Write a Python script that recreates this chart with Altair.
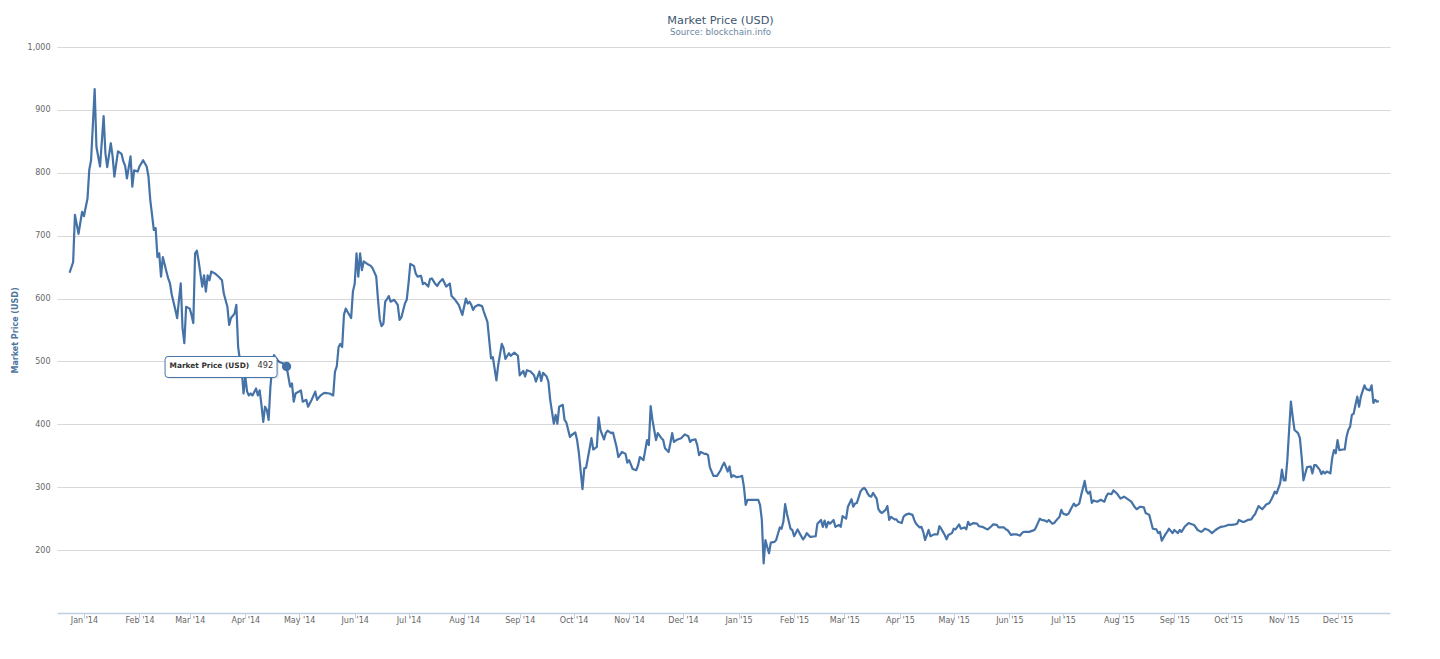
import altair as alt
import pandas as pd

# ---- data (daily-ish samples, USD) ----
days_2013 = ["12-24", "12-26", "12-27", "12-29", "12-31"]
price_2013 = [641, 658, 733, 703, 738]

days_2014 = [
    "01-01", "01-03", "01-04", "01-05", "01-07", "01-08", "01-10", "01-12", "01-13", "01-14", "01-16", "01-17", "01-18", "01-20", "01-22", "01-23", "01-24", "01-25", "01-27", "01-28", "01-29", "01-31",
    "02-01", "02-03", "02-05", "02-06", "02-07", "02-09", "02-10", "02-11", "02-12", "02-13", "02-14", "02-16", "02-17", "02-18", "02-19", "02-21", "02-22", "02-23", "02-24", "02-25", "02-26", "02-27",
    "03-01", "03-02", "03-03", "03-04", "03-05", "03-06", "03-08", "03-09", "03-10", "03-11", "03-12", "03-13", "03-15", "03-17", "03-19", "03-20", "03-22", "03-23", "03-24", "03-26", "03-27", "03-28", "03-29", "03-30", "03-31",
    "04-01", "04-02", "04-03", "04-04", "04-05", "04-07", "04-08", "04-09", "04-10", "04-11", "04-12", "04-13", "04-14", "04-15", "04-16", "04-17", "04-19", "04-20", "04-22", "04-24", "04-26", "04-27", "04-28", "04-29",
    "05-02", "05-03", "05-05", "05-06", "05-08", "05-10", "05-11", "05-13", "05-15", "05-18", "05-20", "05-21", "05-22", "05-23", "05-24", "05-25", "05-26", "05-27", "05-28", "05-30", "05-31",
    "06-01", "06-02", "06-03", "06-04", "06-05", "06-06", "06-08", "06-10", "06-11", "06-13", "06-14", "06-15", "06-16", "06-17", "06-18", "06-19", "06-20", "06-21", "06-23", "06-25", "06-26", "06-27", "06-29", "06-30",
    "07-01", "07-02", "07-04", "07-05", "07-06", "07-08", "07-09", "07-10", "07-12", "07-13", "07-14", "07-16", "07-17", "07-18", "07-20", "07-21", "07-22", "07-24", "07-25", "07-27", "07-29", "07-30", "07-31",
    "08-02", "08-03", "08-04", "08-05", "08-06", "08-07", "08-09", "08-11", "08-12", "08-14", "08-15", "08-16", "08-17", "08-19", "08-20", "08-22", "08-23", "08-24", "08-26", "08-27", "08-29", "08-31",
    "09-01", "09-03", "09-04", "09-05", "09-07", "09-09", "09-10", "09-12", "09-13", "09-14", "09-16", "09-17", "09-18", "09-20", "09-21", "09-22", "09-23", "09-25", "09-26", "09-27", "09-29", "09-30",
    "10-02", "10-03", "10-04", "10-06", "10-07", "10-08", "10-10", "10-11", "10-12", "10-14", "10-15", "10-16", "10-18", "10-19", "10-20", "10-22", "10-23", "10-25", "10-26", "10-28", "10-30", "10-31",
    "11-01", "11-03", "11-05", "11-06", "11-07", "11-09", "11-10", "11-11", "11-12", "11-13", "11-14", "11-15", "11-16", "11-17", "11-19", "11-20", "11-21", "11-23", "11-24", "11-25", "11-26", "11-28", "11-30",
    "12-02", "12-04", "12-05", "12-06", "12-08", "12-09", "12-10", "12-11", "12-13", "12-14", "12-15", "12-16", "12-18", "12-20", "12-22", "12-23", "12-24", "12-26", "12-27", "12-28", "12-29", "12-31",
]
price_2014 = [
    731, 759, 805, 820, 933, 841, 810, 890, 831, 809, 847, 826, 794, 834, 830, 818, 811, 791, 826, 778, 804, 802,
    810, 820, 810, 794, 757, 709, 712, 666, 672, 635, 666, 643, 632, 624, 606, 582, 569, 598, 624, 553, 529, 587,
    584, 574, 561, 672, 676, 659, 619, 637, 611, 637, 629, 643, 640, 635, 629, 608, 587, 558, 569, 576, 590, 523, 502, 486, 449,
    476, 452, 446, 449, 446, 457, 446, 454, 431, 404, 428, 423, 407, 460, 491, 510, 502, 499, 497, 492, 460, 465, 436, 449,
    454, 436, 439, 428, 439, 452, 439, 446, 450, 449, 446, 484, 492, 523, 528, 523, 574, 584, 579, 569, 611,
    624, 672, 635, 672, 645, 659, 655, 652, 648, 635, 598, 566, 556, 560, 595, 599, 604, 595, 598, 590, 566, 570, 592, 598,
    624, 655, 652, 640, 635, 636, 623, 625, 619, 631, 632, 623, 620, 625, 631, 625, 619, 624, 604, 598, 590, 582, 574,
    600, 592, 595, 590, 582, 587, 590, 588, 579, 563, 534, 505, 507, 470, 494, 528, 521, 504, 513, 509, 514, 509,
    478, 485, 476, 486, 484, 478, 468, 484, 469, 482, 476, 468, 439, 401, 415, 401, 428, 431, 407, 403, 380, 383,
    387, 375, 354, 297, 330, 331, 362, 378, 360, 364, 411, 391, 376, 386, 390, 386, 387, 364, 348, 356, 353, 339,
    343, 329, 327, 335, 348, 343, 359, 375, 367, 429, 407, 391, 375, 386, 378, 375, 362, 356, 370, 386, 372, 376, 378,
    384, 381, 372, 375, 376, 367, 351, 356, 353, 353, 351, 332, 318, 318, 327, 334, 339, 325, 333, 316, 319, 316,
]

days_2015 = [
    "01-02", "01-03", "01-04", "01-05", "01-06", "01-08", "01-10", "01-12", "01-13", "01-14", "01-15", "01-16", "01-17", "01-18", "01-19", "01-21", "01-22", "01-24", "01-25", "01-26", "01-27", "01-28", "01-30", "01-31",
    "02-01", "02-03", "02-04", "02-06", "02-07", "02-08", "02-10", "02-13", "02-14", "02-16", "02-17", "02-18", "02-19", "02-20", "02-21", "02-23", "02-24", "02-26", "02-27", "02-28",
    "03-02", "03-03", "03-05", "03-06", "03-07", "03-08", "03-10", "03-11", "03-12", "03-13", "03-14", "03-15", "03-16", "03-17", "03-19", "03-20", "03-21", "03-22", "03-24", "03-25", "03-26", "03-27", "03-29", "03-30", "03-31",
    "04-02", "04-03", "04-04", "04-06", "04-08", "04-09", "04-10", "04-12", "04-13", "04-14", "04-15", "04-16", "04-17", "04-18", "04-20", "04-22", "04-23", "04-24", "04-25", "04-26", "04-27", "04-28", "04-30",
    "05-01", "05-02", "05-04", "05-05", "05-07", "05-08", "05-09", "05-10", "05-12", "05-14", "05-15", "05-17", "05-19", "05-20", "05-22", "05-23", "05-25", "05-26", "05-27", "05-29", "05-30", "05-31",
    "06-02", "06-03", "06-05", "06-06", "06-07", "06-08", "06-09", "06-11", "06-12", "06-14", "06-15", "06-16", "06-18", "06-19", "06-21", "06-22", "06-23", "06-25", "06-26", "06-28", "06-29", "06-30",
    "07-01", "07-03", "07-04", "07-06", "07-07", "07-08", "07-10", "07-11", "07-12", "07-13", "07-14", "07-15", "07-16", "07-17", "07-18", "07-20", "07-22", "07-24", "07-25", "07-26", "07-28", "07-29", "07-31",
    "08-01", "08-02", "08-04", "08-06", "08-08", "08-10", "08-11", "08-13", "08-15", "08-16", "08-18", "08-19", "08-20", "08-22", "08-23", "08-24", "08-25", "08-27", "08-28", "08-29", "08-31",
    "09-01", "09-03", "09-04", "09-05", "09-07", "09-09", "09-10", "09-12", "09-14", "09-16", "09-17", "09-18", "09-20", "09-22", "09-24", "09-25", "09-27", "09-29",
    "10-01", "10-03", "10-05", "10-06", "10-07", "10-09", "10-10", "10-12", "10-14", "10-15", "10-16", "10-17", "10-18", "10-20", "10-21", "10-22", "10-24", "10-25", "10-26", "10-27", "10-28", "10-29", "10-30", "10-31",
    "11-01", "11-02", "11-03", "11-04", "11-05", "11-06", "11-07", "11-09", "11-10", "11-11", "11-12", "11-14", "11-16", "11-17", "11-18", "11-19", "11-21", "11-22", "11-23", "11-24", "11-25", "11-27", "11-28", "11-29", "11-30",
    "12-01", "12-02", "12-04", "12-05", "12-06", "12-07", "12-08", "12-09", "12-10", "12-11", "12-12", "12-13", "12-14", "12-16", "12-17", "12-19", "12-20", "12-21", "12-22", "12-23", "12-24",
]
price_2015 = [
    317, 318, 301, 272, 280, 280, 280, 280, 272, 248, 179, 216, 205, 195, 212, 213, 216, 236, 234, 245, 273, 258, 234, 232,
    222, 233, 227, 217, 221, 227, 221, 222, 242, 248, 237, 247, 236, 245, 242, 248, 237, 240, 237, 254,
    250, 269, 281, 269, 274, 275, 293, 297, 299, 296, 290, 286, 285, 291, 282, 265, 261, 259, 264, 270, 248, 253, 249, 249, 245,
    243, 253, 256, 258, 256, 248, 242, 236, 237, 229, 216, 224, 232, 222, 225, 225, 238, 234, 229, 224, 217, 224, 227,
    234, 233, 241, 234, 236, 233, 245, 240, 243, 242, 238, 237, 234, 233, 238, 241, 240, 236, 236, 236, 233, 232,
    224, 225, 225, 224, 223, 227, 229, 229, 229, 231, 232, 237, 250, 248, 247, 245, 248, 242, 243, 250, 253, 264,
    258, 256, 258, 269, 274, 270, 274, 287, 298, 310, 294, 290, 293, 275, 279, 277, 280, 277, 285, 290, 289, 295, 290,
    286, 282, 285, 281, 277, 268, 265, 269, 268, 259, 256, 245, 234, 233, 227, 229, 215, 225, 229, 234, 227,
    232, 227, 232, 229, 238, 243, 242, 240, 232, 229, 231, 234, 232, 227, 232, 234, 237, 238,
    240, 240, 241, 242, 248, 245, 245, 248, 249, 254, 257, 264, 270, 265, 268, 272, 275, 280, 286, 293, 290, 298, 306, 328,
    311, 311, 343, 391, 436, 412, 391, 386, 378, 348, 311, 332, 333, 322, 335, 335, 328, 321, 325, 322, 325, 322, 346, 359, 354,
    375, 359, 360, 360, 380, 391, 396, 415, 417, 431, 444, 428, 444, 462, 456, 454, 462, 434, 439, 436, 437,
]

# highlighted point (tooltip in the reference)
tip_date = "2014-04-24"
tip_value = 492
tip_label = "Market Price (USD)"

y_ticks = [200, 300, 400, 500, 600, 700, 800, 900, 1000]
month_ticks = [(2014, m) for m in range(1, 13)] + [(2015, m) for m in range(1, 13)]

assert len(days_2013) == len(price_2013)
assert len(days_2014) == len(price_2014)
assert len(days_2015) == len(price_2015)

dates = (["2013-" + d for d in days_2013] + ["2014-" + d for d in days_2014]
         + ["2015-" + d for d in days_2015])
prices = price_2013 + price_2014 + price_2015
df = pd.DataFrame({"date": dates, "price": prices})
tip = pd.DataFrame({"date": [tip_date], "price": [tip_value],
                    "label": [tip_label], "val": [str(tip_value)]})

FONT = "DejaVu Sans"
LINE = "#4572A7"

x_enc = alt.X(
    "date:T",
    scale=alt.Scale(type="utc", domain=[
        alt.DateTime(year=2013, month=12, date=17, utc=True),
        alt.DateTime(year=2015, month=12, date=30, hours=6, utc=True)]),
    axis=alt.Axis(
        values=[alt.DateTime(year=y, month=m, date=1, utc=True) for y, m in month_ticks],
        format="%b '%y", title=None, grid=False,
        domainColor="#C0D0E0", domainWidth=1.5,
        tickColor="#C0D0E0", tickSize=5, tickWidth=1,
        labelColor="#666666", labelFont=FONT, labelFontSize=8,
        labelBaseline="middle", labelPadding=2, labelOverlap=False,
        labelFlush=False),
)
y_enc = alt.Y(
    "price:Q",
    scale=alt.Scale(domain=[100, 1000], nice=False, zero=False),
    axis=alt.Axis(
        values=y_ticks, format=",.0f", title="Market Price (USD)",
        grid=True, gridColor="#D8D8D8", gridWidth=1,
        domain=False, ticks=False,
        labelColor="#666666", labelFont=FONT, labelFontSize=8,
        labelPadding=7,
        titleColor="#4D759E", titleFont=FONT, titleFontSize=8,
        titleFontWeight="bold", titlePadding=8),
)

line = alt.Chart(df).mark_line(color=LINE, strokeWidth=2.2, strokeJoin="round").encode(
    x=x_enc, y=y_enc)

marker = alt.Chart(tip).mark_point(
    shape="circle", size=55, filled=True, fill=LINE, stroke=LINE, opacity=1
).encode(x="date:T", y="price:Q")

box_path = ("M-53,-10.5 L53,-10.5 Q56,-10.5 56,-7.5 L56,7.5 Q56,10.5 53,10.5 "
            "L-53,10.5 Q-56,10.5 -56,7.5 L-56,-7.5 Q-56,-10.5 -53,-10.5 Z")
shadow = alt.Chart(tip).mark_point(
    shape=box_path, size=4, filled=True, fill="#000000", opacity=0.08,
    strokeWidth=0, xOffset=-63.5, yOffset=2
).encode(x="date:T", y="price:Q")
box = alt.Chart(tip).mark_point(
    shape=box_path, size=4, filled=True, fill="#FFFFFF", stroke=LINE,
    strokeWidth=1, opacity=1, strokeOpacity=1, xOffset=-65.5, yOffset=0.5
).encode(x="date:T", y="price:Q")
tip_name = alt.Chart(tip).mark_text(
    align="left", baseline="middle", dx=-117, dy=0, font=FONT, fontSize=7.4,
    fontWeight="bold", color="#333333"
).encode(x="date:T", y="price:Q", text="label:N")
tip_val = alt.Chart(tip).mark_text(
    align="left", baseline="middle", dx=-29, dy=0, font=FONT, fontSize=8.2,
    color="#333333"
).encode(x="date:T", y="price:Q", text="val:N")

chart = alt.layer(line, marker, shadow, box, tip_name, tip_val).properties(
    width=1333, height=566,
    padding={"left": 57, "top": 47, "right": 50, "bottom": 46},
    autosize=alt.AutoSizeParams(type="none"),
    title=alt.TitleParams(
        text="Market Price (USD)", subtitle="Source: blockchain.info",
        anchor="middle", dx=-3, font=FONT, fontSize=11.3, fontWeight="normal",
        color="#3E576F", subtitleFont=FONT, subtitleFontSize=8.7,
        subtitleColor="#6D869F", subtitlePadding=2, offset=6),
).configure(background="white").configure_view(stroke=None)

chart.save("out.html", embed_options={"renderer": "svg", "actions": False})
